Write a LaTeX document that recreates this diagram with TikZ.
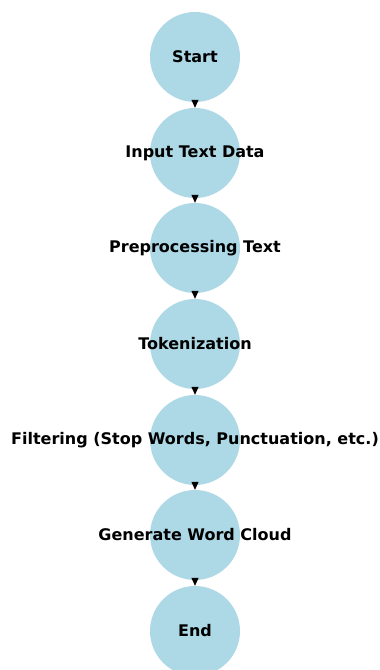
\documentclass[tikz,border=0pt]{standalone}
\usepackage{fontspec}
\setsansfont{DejaVu Sans}
\usetikzlibrary{arrows.meta}
\definecolor{nodeblue}{HTML}{ADD8E6}

\tikzstyle{vertex}=[circle,fill=nodeblue,minimum size=90pt,inner sep=0pt]
\tikzstyle{edge} = [draw,line width=0.8pt,-{Triangle[length=8pt,width=7pt]}]

\begin{document}
\begin{tikzpicture}[x=1pt,y=1pt,
    font=\sffamily\bfseries\fontsize{16}{18}\selectfont]
     \useasboundingbox (0,0) rectangle (380,-670);
     \foreach \pos/\name/\txt in {{(195,-57)/start/Start},
       {(195,-153)/input/Input Text Data},
       {(195,-248)/prep/Preprocessing Text},
       {(195,-344)/token/Tokenization},
       {(195,-440)/filter/{Filtering (Stop Words, Punctuation, etc.)}},
       {(195,-535)/cloud/Generate Word Cloud},
       {(195,-631)/fin/End}}
     \node[vertex, label={center:\txt}] (\name) at \pos {};

     \foreach \source/ \dest in {start/input, input/prep, prep/token,
       token/filter, filter/cloud, cloud/fin}
     \path[edge] (\source) -- (\dest);
\end{tikzpicture}
\end{document}
